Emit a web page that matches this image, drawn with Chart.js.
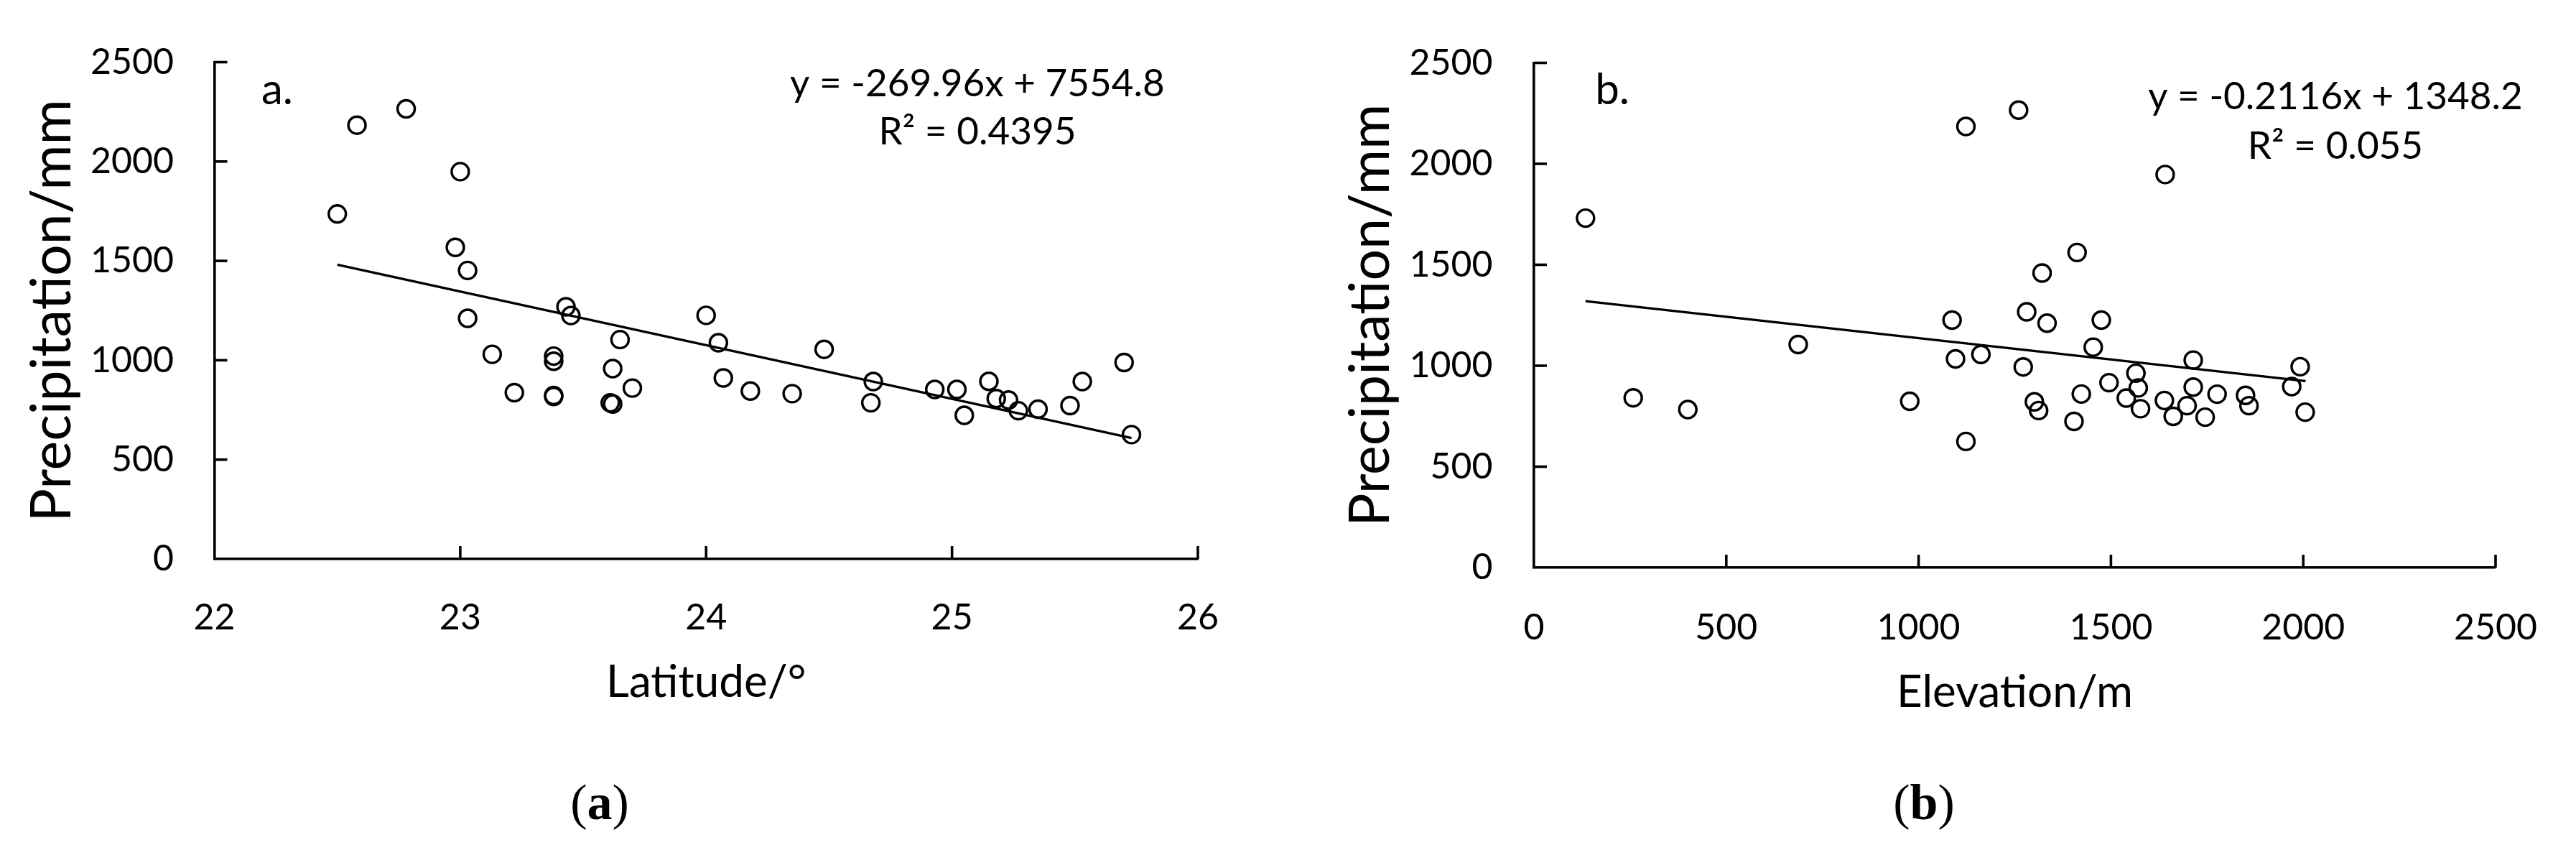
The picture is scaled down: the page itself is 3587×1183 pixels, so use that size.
<!DOCTYPE html>
<html><head><meta charset="utf-8">
<script src="https://cdn.jsdelivr.net/npm/chart.js@4.4.1/dist/chart.umd.min.js"></script>
<style>
html,body{margin:0;padding:0;background:#fff;}
body{width:3587px;height:1183px;position:relative;overflow:hidden;}
canvas{position:absolute;top:0;}
#ca{left:0;} #cb{left:1793px;}
</style></head><body>
<canvas id="ca" width="1793" height="1183"></canvas>
<canvas id="cb" width="1794" height="1183"></canvas>
<script>
// ---- Panel (a): latitude vs precipitation ----
const latitudeA = [22.50,22.58,22.78,23.00,22.98,23.03,23.03,23.13,23.22,23.38,23.38,23.38,23.38,23.43,23.45,23.65,23.62,23.70,23.61,23.62,
                   24.00,24.05,24.07,24.18,24.35,24.48,24.68,24.67,24.93,25.02,25.05,25.15,25.18,25.23,25.27,25.35,25.48,25.53,25.70,25.73];
const precipA   = [1736,2183,2265,1949,1568,1452,1211,1030,837,1021,995,823,818,1269,1225,1104,958,860,786,780,
                   1226,1088,911,845,832,1055,893,786,853,853,723,894,807,800,746,754,772,893,989,626];
const trendLatA = [22.50,25.73];
const trendPrecipA = [1481,609];
const latTicks = [22,23,24,25,26];
const equationA = ['y = -269.96x + 7554.8','R\u00B2 = 0.4395'];

// ---- Panel (b): elevation vs precipitation ----
const elevationB = [134,258,400,687,977,1087,1096,1123,1123,1162,1260,1272,1281,1301,1312,1321,1334,1404,1412,1423,
                    1454,1475,1495,1540,1565,1571,1577,1639,1641,1662,1698,1714,1714,1745,1776,1850,1859,1970,1992,2005];
const precipB    = [1731,841,783,1105,824,1226,1034,2185,625,1056,2266,994,1267,821,778,1459,1211,724,1561,860,
                    1092,1226,916,840,963,890,787,828,1947,749,802,1028,894,745,859,853,802,897,995,770];
const trendElevB = [134,2006];
const trendPrecipB = [1320,924];
const elevTicks = [0,500,1000,1500,2000,2500];
const equationB = ['y = -0.2116x + 1348.2','R\u00B2 = 0.055'];

const precipTicks = [0,500,1000,1500,2000,2500];

const FONT = 'Lato';

const inwardTicks = {
  id:'inwardTicks',
  afterDraw(chart, args, opts){
    const {ctx, chartArea:{left,bottom}, scales:{x,y}} = chart;
    ctx.save();
    ctx.strokeStyle = '#000'; ctx.lineWidth = opts.width; ctx.lineCap = 'butt';
    x.ticks.forEach(t => {
      const px = x.getPixelForValue(t.value);
      if (Math.abs(px-left) < 2) return;
      ctx.beginPath(); ctx.moveTo(px, bottom); ctx.lineTo(px, bottom-opts.len); ctx.stroke();
    });
    y.ticks.forEach(t => {
      const py = y.getPixelForValue(t.value);
      if (Math.abs(py-bottom) < 2) return;
      ctx.beginPath(); ctx.moveTo(left, py); ctx.lineTo(left+opts.len, py); ctx.stroke();
    });
    ctx.restore();
  }
};

const texts = {
  id:'texts',
  afterDraw(chart, args, opts){
    const {ctx, scales:{x,y}} = chart;
    ctx.save();
    ctx.fillStyle = '#000'; ctx.textBaseline = 'alphabetic';
    (opts.items||[]).forEach(it => {
      ctx.font = it.font; ctx.textAlign = it.align;
      ctx.fillText(it.text, x.getPixelForValue(it.x), y.getPixelForValue(it.y));
    });
    const c = opts.caption;
    if (c) {
      const reg = '70px "Liberation Serif"', bold = 'bold 70px "Liberation Serif"';
      ctx.textAlign = 'left';
      ctx.font = reg; const w1 = ctx.measureText('(').width, w3 = ctx.measureText(')').width;
      ctx.font = bold; const w2 = ctx.measureText(c.letter).width;
      let cx = c.cx - (w1+w2+w3)/2;
      ctx.font = reg; ctx.fillText('(', cx, c.baseline); cx += w1;
      ctx.font = bold; ctx.fillText(c.letter, cx, c.baseline); cx += w2;
      ctx.font = reg; ctx.fillText(')', cx, c.baseline);
    }
    ctx.restore();
  }
};

const plainNumber = v => String(v);

function makeChart(id, cfg){
  return new Chart(document.getElementById(id), {
    type:'scatter',
    data:{datasets:[
      {data: cfg.xs.map((v,i)=>({x:v, y:cfg.ys[i]})), pointStyle:'circle', pointRadius:12, pointHoverRadius:12,
       pointBorderWidth:3.4, borderColor:'#000', pointBorderColor:'#000', backgroundColor:'rgba(0,0,0,0)', pointBackgroundColor:'rgba(0,0,0,0)'},
      {type:'line', data: cfg.tx.map((v,i)=>({x:v, y:cfg.ty[i]})), borderColor:'#000', borderWidth:3.4,
       pointRadius:0, fill:false, tension:0}
    ]},
    options:{
      responsive:false, animation:false, devicePixelRatio:1,
      layout:{padding:{left:0, top:cfg.padTop, right:cfg.padRight, bottom:0}},
      plugins:{
        legend:{display:false}, tooltip:{enabled:false},
        inwardTicks:{len:18, width:3.6},
        texts:{items:cfg.items, caption:cfg.caption}
      },
      scales:{
        x:{type:'linear', min:cfg.xmin, max:cfg.xmax,
           afterBuildTicks: s => { s.ticks = cfg.xTicks.map(v=>({value:v})); },
           afterFit: s => { s.height = cfg.xH; },
           grid:{display:false, drawTicks:false},
           border:{display:true, color:'#000', width:3.6},
           ticks:{color:'#000', font:{family:FONT, size:50}, padding:cfg.xTickPad, maxRotation:0, autoSkip:false, callback:plainNumber},
           title:{display:true, text:cfg.xTitle, color:'#000', font:{family:FONT, size:62}, padding:{top:0, bottom:cfg.xTitlePad}}
        },
        y:{type:'linear', min:0, max:2500,
           afterBuildTicks: s => { s.ticks = precipTicks.map(v=>({value:v})); },
           afterFit: s => { s.width = cfg.yW; },
           grid:{display:false, drawTicks:false},
           border:{display:true, color:'#000', width:3.6},
           ticks:{color:'#000', font:{family:FONT, size:50}, padding:cfg.yTickPad, autoSkip:false, callback:plainNumber},
           title:{display:true, text:'Precipitation/mm', color:'#000', font:{family:FONT, size:77}, padding:{top:cfg.yTitlePad, bottom:0}}
        }
      }
    },
    plugins:[inwardTicks, texts]
  });
}

function draw(){
  makeChart('ca', {
    xs:latitudeA, ys:precipA, tx:trendLatA, ty:trendPrecipA,
    xmin:22, xmax:26, xTicks:latTicks, xTitle:'Latitude/\u00B0',
    padTop:50, padRight:125, xH:405, yW:298.5,
    xTickPad:52, yTickPad:56.5, xTitlePad:196, yTitlePad:27,
    items:[
      {text:'a.', x:22.191, y:2290, font:'60px '+FONT, align:'left'},
      {text:equationA[0], x:25.103, y:2327, font:'53px '+FONT, align:'center'},
      {text:equationA[1], x:25.103, y:2087, font:'53px '+FONT, align:'center'}
    ],
    caption:{letter:'a', cx:835, baseline:1140}
  });
  makeChart('cb', {
    xs:elevationB, ys:precipB, tx:trendElevB, ty:trendPrecipB,
    xmin:0, xmax:2500, xTicks:elevTicks, xTitle:'Elevation/m',
    padTop:46, padRight:100, xH:393, yW:343,
    xTickPad:54, yTickPad:57.5, xTitlePad:182, yTitlePad:70,
    items:[
      {text:'b.', x:159, y:2295, font:'60px '+FONT, align:'left'},
      {text:equationB[0], x:2083.6, y:2269, font:'53px '+FONT, align:'center'},
      {text:equationB[1], x:2083.6, y:2025, font:'53px '+FONT, align:'center'}
    ],
    caption:{letter:'b', cx:886, baseline:1140}
  });
}
if (document.fonts && document.fonts.load) {
  Promise.all([document.fonts.load('50px Lato'), document.fonts.load('70px "Liberation Serif"'), document.fonts.load('bold 70px "Liberation Serif"')])
    .then(draw, draw);
} else { draw(); }
</script>
</body></html>
